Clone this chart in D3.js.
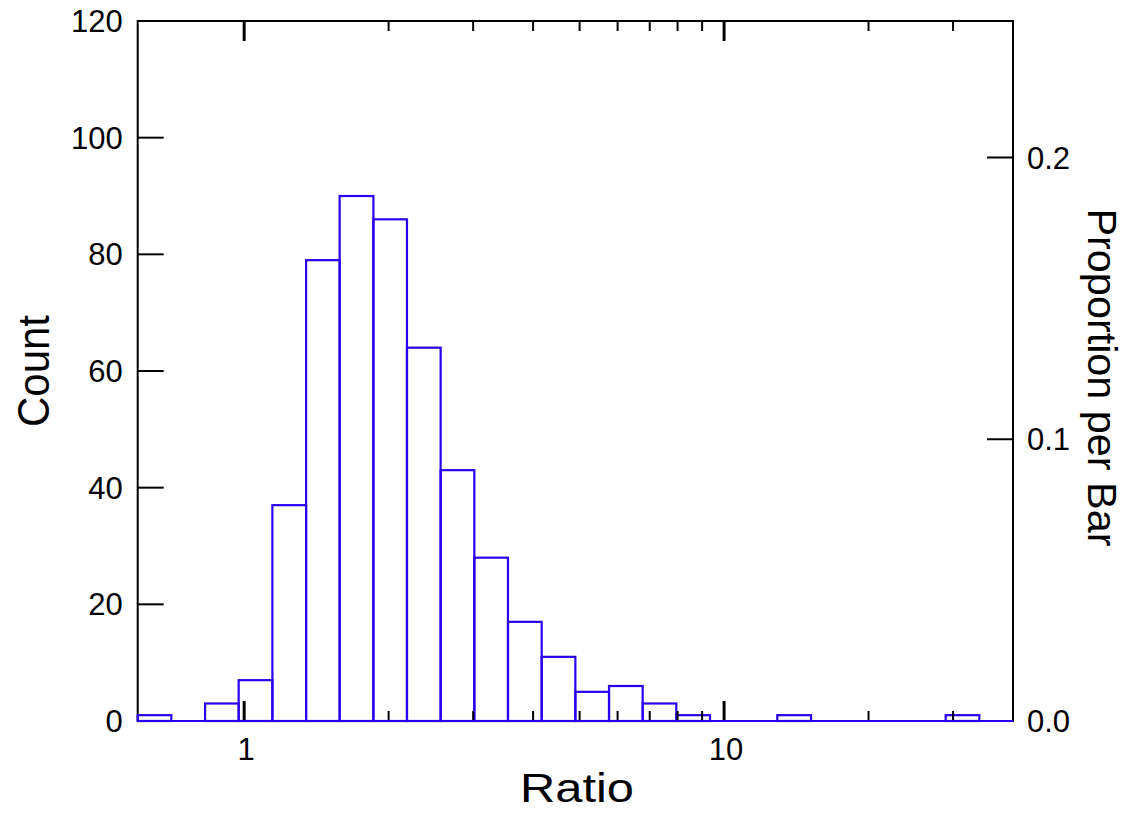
<!DOCTYPE html>
<html>
<head>
<meta charset="utf-8">
<script src="https://cdn.jsdelivr.net/npm/d3@7"></script>
<style>
  html, body { margin: 0; padding: 0; background: #fff; }
  text { font-family: "Liberation Sans", Arial, Helvetica, sans-serif; fill: #000; }
</style>
</head>
<body>
<svg id="chart" width="1136" height="814"></svg>
<script>
// ---- data ----
const binEdges = [0.600, 0.705, 0.829, 0.974, 1.145, 1.346, 1.581, 1.859, 2.184, 2.567,
                  3.017, 3.546, 4.168, 4.899, 5.758, 6.767, 7.953, 9.347, 10.99, 12.91,
                  15.18, 17.84, 20.96, 24.64, 28.96, 34.03, 40.00];
const counts   = [1, 0, 3, 7, 37, 79, 90, 86, 64, 43,
                  28, 17, 11, 5, 6, 3, 1, 0, 0, 1,
                  0, 0, 0, 0, 1, 0];
const countTicks = [0, 20, 40, 60, 80, 100, 120];
const propTicks = [0.0, 0.1, 0.2];
const xMajorTicks = [1, 10];
const xMinorTicks = [2, 3, 4, 5, 6, 7, 8, 9, 20, 30];
const xTitle = "Ratio";
const yTitle = "Count";
const y2Title = "Proportion per Bar";

// ---- layout ----
const L = 137.7, R = 1013, T = 21, B = 721;
const barColor = "#2a00ee";
const svg = d3.select("#chart");
svg.append("rect").attr("width", 1136).attr("height", 814).attr("fill", "#fff");

const x = d3.scaleLog().domain([binEdges[0], binEdges[binEdges.length - 1]]).range([L, R]);
const y = d3.scaleLinear().domain([0, 120]).range([B, T]);
const total = d3.sum(counts);
const y2 = d3.scaleLinear().domain([0, 120 / total]).range([B, T]);

const bins = counts.map((c, i) => ({ x0: binEdges[i], x1: binEdges[i + 1], c }));

// frame
const frame = svg.append("g").attr("stroke", "#000").attr("stroke-width", 2).attr("fill", "none");
frame.append("path").attr("d", `M${L},${B}V${T}H${R}V${B}H${L}`).attr("stroke-linejoin", "miter");

// bars
svg.append("g").selectAll("rect").data(bins).join("rect")
  .attr("x", d => x(d.x0))
  .attr("y", d => y(d.c))
  .attr("width", d => x(d.x1) - x(d.x0))
  .attr("height", d => y(0) - y(d.c))
  .attr("fill", "none")
  .attr("stroke", barColor)
  .attr("stroke-width", 2.2);

// left ticks
const tk = svg.append("g").attr("stroke", "#000");
tk.selectAll("line.l").data(countTicks).join("line").attr("class", "l")
  .attr("x1", L).attr("x2", L + 26).attr("y1", d => y(d)).attr("y2", d => y(d)).attr("stroke-width", 2);
svg.append("g").selectAll("text").data(countTicks).join("text")
  .attr("x", L - 15).attr("y", d => y(d)).attr("dy", "0.36em")
  .attr("text-anchor", "end").attr("font-size", 31).text(d => d);

// right ticks
tk.selectAll("line.r").data(propTicks).join("line").attr("class", "r")
  .attr("x1", R - 26).attr("x2", R).attr("y1", d => y2(d)).attr("y2", d => y2(d)).attr("stroke-width", 2);
svg.append("g").selectAll("text").data(propTicks).join("text")
  .attr("x", R + 14).attr("y", d => y2(d)).attr("dy", "0.36em")
  .attr("text-anchor", "start").attr("font-size", 31).text(d => d3.format(".1f")(d));

// x ticks (bottom and top, inward)
[B, T].forEach(base => {
  const dir = base === B ? -1 : 1;
  tk.append("g").selectAll("line").data(xMajorTicks).join("line")
    .attr("x1", d => x(d)).attr("x2", d => x(d))
    .attr("y1", base).attr("y2", base + dir * 20).attr("stroke-width", 3);
  tk.append("g").selectAll("line").data(xMinorTicks).join("line")
    .attr("x1", d => x(d)).attr("x2", d => x(d))
    .attr("y1", base).attr("y2", base + dir * 10).attr("stroke-width", 2);
});
svg.append("g").selectAll("text").data(xMajorTicks).join("text")
  .attr("x", d => x(d) + 2).attr("y", 760)
  .attr("text-anchor", "middle").attr("font-size", 31).text(d => d);

// baseline in bar colour
svg.append("line").attr("x1", L).attr("x2", R).attr("y1", B).attr("y2", B)
  .attr("stroke", barColor).attr("stroke-width", 2.2);

// titles
svg.append("text").attr("x", 577).attr("y", 802).attr("text-anchor", "middle")
  .attr("font-size", 40).attr("textLength", 114).attr("lengthAdjust", "spacingAndGlyphs").text(xTitle);
svg.append("text").attr("transform", "translate(49,371) rotate(-90)").attr("text-anchor", "middle")
  .attr("font-size", 44).attr("textLength", 112).attr("lengthAdjust", "spacingAndGlyphs").text(yTitle);
svg.append("text").attr("transform", "translate(1088,377.5) rotate(90)").attr("text-anchor", "middle")
  .attr("font-size", 40).attr("textLength", 338).attr("lengthAdjust", "spacingAndGlyphs").text(y2Title);
</script>
</body>
</html>
